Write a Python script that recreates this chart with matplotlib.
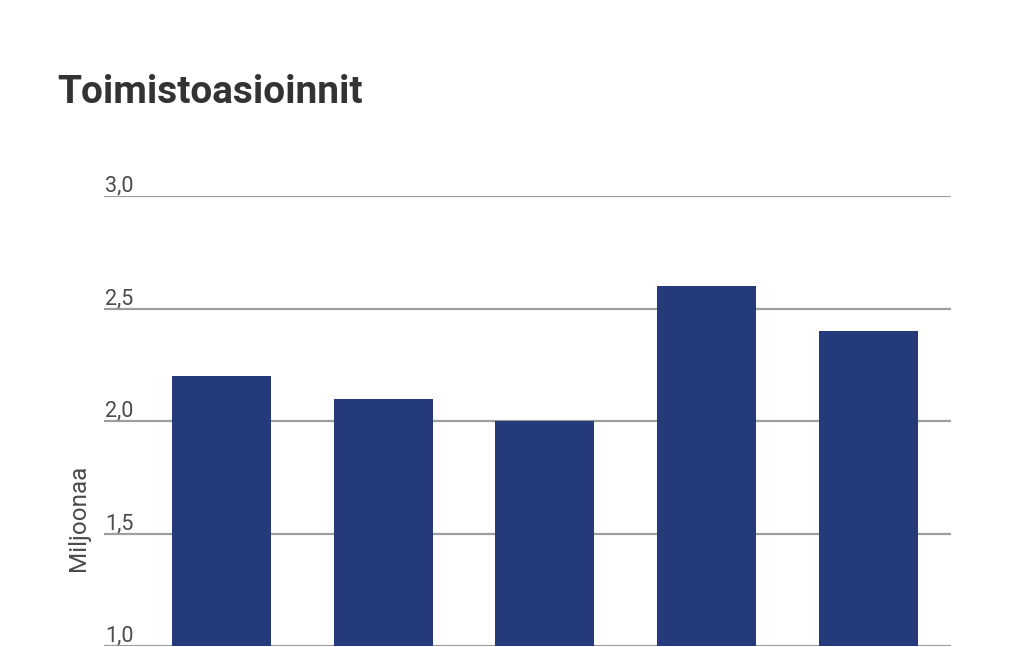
import matplotlib
matplotlib.use("Agg")
import matplotlib.pyplot as plt
from matplotlib.transforms import offset_copy

categories = ["1", "2", "3", "4", "5"]
values = [2.2, 2.1, 2.0, 2.6, 2.4]
yticks = [1.0, 1.5, 2.0, 2.5, 3.0]
ytick_labels = ["1,0", "1,5", "2,0", "2,5", "3,0"]

plt.rcParams['font.family'] = ['Roboto', 'DejaVu Sans']

W, H = 1023, 647
fig = plt.figure(figsize=(W / 100, H / 100), dpi=100)
fig.patch.set_facecolor('white')

left_px, right_px = 104, 951
top_px, bottom_px = 196, 646
ax = fig.add_axes([left_px / W, 1 - bottom_px / H, (right_px - left_px) / W, (bottom_px - top_px) / H])
ax.set_facecolor('none')

x = list(range(len(categories)))
ax.bar(x, values, width=0.613, color='#253A7B', zorder=3)
ax.set_xlim(-0.727, 4.513)
ax.set_ylim(1.0, 3.0)

for t in yticks:
    ax.axhline(t, color='#9e9e9e', lw=1.6, zorder=1)

ax.set_yticks(yticks)
ax.set_yticklabels([])
ax.tick_params(left=False, bottom=False, labelbottom=False)
trans = offset_copy(ax.get_yaxis_transform(), fig=fig, x=1.5, y=4.5, units='dots')
for lab, t in zip(ytick_labels, yticks):
    ax.text(0.0, t, lab, transform=trans, ha='left', va='baseline',
            fontsize=15.5, color='#4a4a4a')

for s in ax.spines.values():
    s.set_visible(False)

fig.text(57 / W, 1 - 103 / H, "Toimistoasioinnit", fontsize=28, fontweight='bold',
         color='#333333', ha='left', va='baseline')
fig.text(78 / W, 1 - 518 / H, "Miljoonaa", fontsize=17.5, color='#4a4a4a',
         rotation=90, ha='center', va='center')

fig.savefig("out.png", dpi=100)
